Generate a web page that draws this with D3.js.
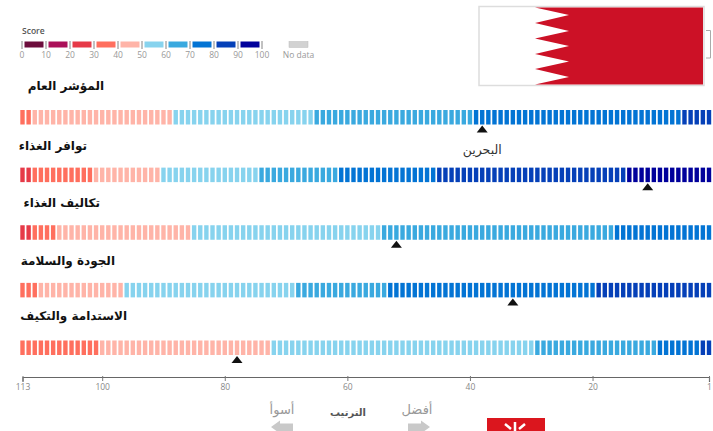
<!DOCTYPE html>
<html lang="ar">
<head>
<meta charset="utf-8">
<script src="https://cdn.jsdelivr.net/npm/d3@7"></script>
<style>
html,body{margin:0;padding:0;background:#fff;overflow:hidden}
svg{display:block}
text{font-family:"DejaVu Sans",sans-serif}
.leg text,.axis text{font-family:"Open Sans",sans-serif}
</style>
</head>
<body>
<svg id="c" width="713" height="431"></svg>
<script>
const scoreBins = [0,10,20,30,40,50,60,70,80,90,100];
const binColors = ["#6c0d3c","#ab1059","#e63a48","#ff6f5e","#ffb4a8","#87d3ee","#3aa9df","#0374d4","#0540b8","#00009b"];
const noDataLabel = "No data";
const titles = ["المؤشر العام","توافر الغذاء","تكاليف الغذاء","الجودة والسلامة","الاستدامة والتكيف"];
// How many countries fall in each score bin, worst rank to best, starting at the given bin
const overallRuns   = [[3,2],[4,23],[5,23],[6,26],[7,34],[8,5]];
const availRuns     = [[2,2],[3,10],[4,11],[5,16],[6,13],[7,16],[8,31],[9,14]];
const costRuns      = [[2,2],[3,4],[4,22],[5,31],[6,38],[7,16]];
const qualityRuns   = [[3,3],[4,14],[5,28],[6,15],[7,34],[8,19]];
const sustainRuns   = [[3,13],[4,28],[5,43],[6,20],[7,7],[8,2]];
const allRuns = [overallRuns,availRuns,costRuns,qualityRuns,sustainRuns];
const bahrainRanks = [38,11,52,33,78];
const countryLabel = "البحرين";
const rankTicks = [113,100,80,60,40,20,1];

const svg = d3.select("#c");
const x = d3.scaleLinear().domain([113,1]).range([22.5,709]);
const rowY = d3.scalePoint().domain(d3.range(5)).range([110,340.5]);
const color = d3.scaleOrdinal().domain(d3.range(10)).range(binColors);

// legend
const lx = d3.scaleLinear().domain([0,100]).range([22,262]);
const leg = svg.append("g").attr("class","leg");
leg.append("text").attr("x",22).attr("y",34).attr("font-size",8.5).attr("font-weight",600).attr("fill","#555").text("Score");
leg.selectAll("rect.s").data(d3.range(10)).join("rect").attr("class","s")
  .attr("x",i=>lx(scoreBins[i])+2.5).attr("y",41.5).attr("width",lx(10)-lx(0)-5).attr("height",6).attr("fill",i=>color(i));
leg.selectAll("line").data(scoreBins).join("line")
  .attr("x1",lx).attr("x2",lx).attr("y1",41).attr("y2",49).attr("stroke","#666").attr("stroke-width",0.8);
leg.selectAll("text.t").data(scoreBins).join("text").attr("class","t")
  .attr("x",lx).attr("y",58).attr("text-anchor","middle").attr("font-size",8.5).attr("fill","#999").text(d=>d);
leg.append("rect").attr("x",289).attr("y",41.5).attr("width",19).attr("height",6).attr("fill","#d2d2d2").attr("stroke","#bbb").attr("stroke-width",.5);
leg.append("text").attr("x",298.5).attr("y",58).attr("text-anchor","middle").attr("font-size",8.5).attr("fill","#999").text(noDataLabel);

// flag
const flag = svg.append("g");
flag.append("rect").attr("x",479).attr("y",6.5).attr("width",225).attr("height",79).attr("fill","#fff").attr("stroke","#ddd").attr("stroke-width",1.5);
const zig = [[535,7.5],[703,7.5],[703,84.5],[535,84.5],[569,77],[535,69],[569,61.5],[535,54],[569,46],[535,38.5],[569,31],[535,23],[569,15]];
flag.append("polygon").attr("points",zig.join(" ")).attr("fill","#cc1126");
svg.append("path").attr("d","M706 30.5H710.5V58H706").attr("fill","none").attr("stroke","#aaa").attr("stroke-width",1);

// rows
allRuns.forEach((runs,ri)=>{
  const bars = [];
  let rank = 113;
  runs.forEach(([bin,n])=>{ for(let k=0;k<n;k++) bars.push({rank:rank--,bin}); });
  const g = svg.append("g");
  g.selectAll("rect").data(bars).join("rect")
    .attr("x",d=>x(d.rank)-2.2).attr("y",rowY(ri)).attr("width",4.4).attr("height",14.5)
    .attr("fill",d=>color(d.bin));
  const tx = x(bahrainRanks[ri]), ty = rowY(ri)+22.5;
  g.append("path").attr("d",d3.line()([[tx-5.5,ty],[tx+5.5,ty],[tx,ty-7]])+"Z").attr("fill","#111");
});
svg.append("text").attr("x",x(bahrainRanks[0])).attr("y",154).attr("text-anchor","middle").attr("font-size",12.5).attr("fill","#333").text(countryLabel);

// titles
const titleRight = [104,87,100,115,127];
const titleY = [90,149.5,206.5,265,320];
svg.selectAll("text.title").data(titles).join("text").attr("class","title")
  .attr("x",(d,i)=>titleRight[i]).attr("y",(d,i)=>titleY[i]).attr("text-anchor","end").attr("direction","rtl")
  .attr("font-size",12).attr("font-weight",700).attr("fill","#111").style("direction","ltr").text(d=>d);

// axis
const axis = svg.append("g").attr("class","axis").attr("transform","translate(0,377)")
  .call(d3.axisBottom(x).tickValues(rankTicks).tickFormat(d3.format("d")).tickSize(5).tickPadding(2));
axis.select(".domain").attr("stroke","#666").attr("stroke-width",1.2);
axis.selectAll("line").attr("stroke","#777").attr("transform","translate(0,-1)");
axis.selectAll("text").attr("font-size",8.5).attr("fill","#888").attr("font-family","Open Sans");

// footer
const grey="#c9c9c9";
svg.append("text").attr("x",282).attr("y",414).attr("text-anchor","middle").attr("font-size",13).attr("fill","#999").text("أسوأ");
svg.append("text").attr("x",348).attr("y",416).attr("text-anchor","middle").attr("font-size",10).attr("font-weight",700).attr("fill","#555").text("الترتيب");
svg.append("text").attr("x",417).attr("y",414).attr("text-anchor","middle").attr("font-size",13).attr("fill","#999").text("أفضل");
svg.append("path").attr("d","M271 427L280 420.5V423.5H293V431H280V433.5Z").attr("fill",grey);
svg.append("path").attr("d","M430 427L421 420.5V423.5H408V431H421V433.5Z").attr("fill",grey);
svg.append("rect").attr("x",487).attr("y",418).attr("width",58).attr("height",13).attr("fill","#db161e");
svg.append("path").attr("d","M505 424L511 429M525 424L519 429M515 422V431").attr("stroke","#fff").attr("stroke-width",2.5).attr("fill","none");
</script>
</body>
</html>
